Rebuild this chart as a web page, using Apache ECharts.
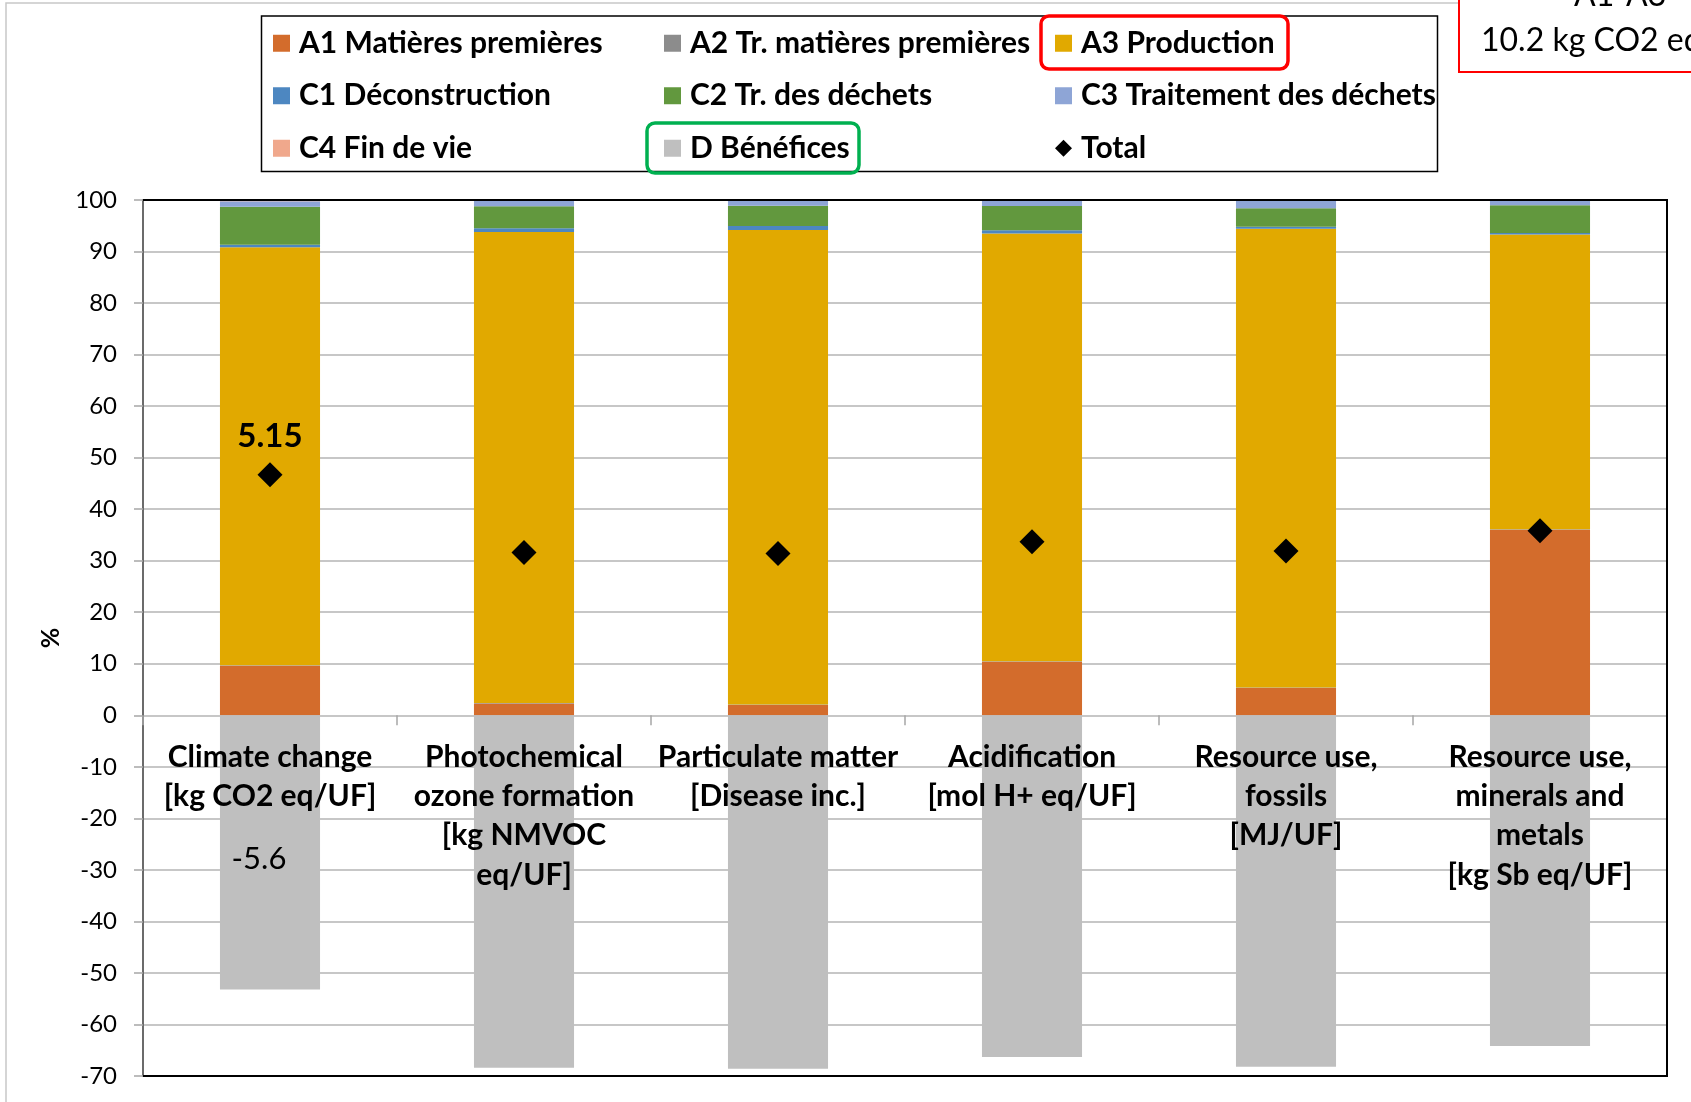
<!DOCTYPE html>
<html>
<head>
<meta charset="utf-8">
<script src="https://cdn.jsdelivr.net/npm/echarts@6/dist/echarts.min.js"></script>
<style>
  html, body { margin: 0; padding: 0; background: #ffffff; }
  #chart { width: 1691px; height: 1102px; }
</style>
</head>
<body>
<div id="chart"></div>
<script>
// Impact categories (x axis)
const categories = [
  'Climate change\n[kg CO2 eq/UF]',
  'Photochemical\nozone formation\n[kg NMVOC\neq/UF]',
  'Particulate matter\n[Disease inc.]',
  'Acidification\n[mol H+ eq/UF]',
  'Resource use,\nfossils\n[MJ/UF]',
  'Resource use,\nminerals and\nmetals\n[kg Sb eq/UF]'
];

// Contribution of each life-cycle module, in % of the burdens
const a1 = [9.6, 2.3, 2.0, 10.4, 5.3, 36.0];
const a2 = [0.1, 0.1, 0.1, 0.1, 0.1, 0.1];
const a3 = [81.15, 91.4, 92.1, 83.0, 89.0, 57.2];
const c1 = [0.45, 0.7, 0.75, 0.65, 0.4, 0.3];
const c2 = [7.4, 4.3, 3.95, 4.7, 3.6, 5.4];
const c3 = [1.05, 1.0, 0.9, 0.95, 1.4, 0.8];
const c4 = [0.25, 0.2, 0.2, 0.2, 0.2, 0.2];
const d = [-53.2, -68.4, -68.6, -66.3, -68.2, -64.2];
const total = [46.7, 31.6, 31.4, 33.7, 31.9, 35.8];

// Category names are hung from the zero line
const labelAnchor = [0, 0, 0, 0, 0, 0];

// Absolute climate-change results written on the chart
const totalLabels = ['5.15', '', '', '', '', ''];
const benefitLabels = ['-5.6', '', '', '', '', ''];

// Y axis range and step
const yMin = -70;
const yMax = 100;
const yStep = 10;

const FONT = 'Lato, "Open Sans", "Noto Sans", sans-serif';
const G = { left: 143, top: 200, width: 1524, height: 876 };

const colors = {
  a1: '#D36C2C', a2: '#8C8C8C', a3: '#E1A900', c1: '#4D87C1',
  c2: '#62983E', c3: '#8EA5D6', c4: '#F0A88C', d: '#BFBFBF'
};

function barSeries(name, values, color) {
  return {
    name: name,
    type: 'bar',
    stack: 'modules',
    barWidth: '39.4%',
    itemStyle: { color: color },
    emphasis: { disabled: true },
    data: values
  };
}

const chart = echarts.init(document.getElementById('chart'), null, { renderer: 'canvas' });

const series = [
  barSeries('A1 Matières premières', a1, colors.a1),
  barSeries('A2 Tr. matières premières', a2, colors.a2),
  barSeries('A3 Production', a3, colors.a3),
  barSeries('C1 Déconstruction', c1, colors.c1),
  barSeries('C2 Tr. des déchets', c2, colors.c2),
  barSeries('C3 Traitement des déchets', c3, colors.c3),
  barSeries('C4 Fin de vie', c4, colors.c4),
  Object.assign(barSeries('D Bénéfices', d, colors.d), {
    label: {
      show: true,
      position: [39, 144],
      align: 'center',
      verticalAlign: 'middle',
      fontFamily: FONT,
      fontSize: 31,
      color: '#000',
      formatter: p => benefitLabels[p.dataIndex]
    }
  }),
  {
    name: 'Total',
    type: 'scatter',
    symbol: 'diamond',
    symbolSize: 25,
    z: 10,
    itemStyle: { color: '#000', opacity: 1 },
    emphasis: { disabled: true },
    label: {
      show: true,
      position: 'top',
      distance: 9,
      fontFamily: FONT,
      fontSize: 33,
      fontWeight: 'bold',
      color: '#000',
      formatter: p => totalLabels[p.dataIndex]
    },
    data: total
  },
  {
    name: 'categoryNames',
    type: 'scatter',
    silent: true,
    symbol: 'circle',
    symbolSize: 0,
    z: 20,
    itemStyle: { color: 'rgba(0,0,0,0)', opacity: 1 },
    emphasis: { disabled: true },
    label: {
      show: true,
      opacity: 1,
      position: 'bottom',
      distance: 22,
      fontFamily: FONT,
      fontSize: 30,
      fontWeight: 'bold',
      lineHeight: 39.3,
      color: '#000',
      align: 'center',
      verticalAlign: 'top',
      formatter: p => categories[p.dataIndex]
    },
    data: labelAnchor
  }
];

const right = G.left + G.width;
const bottom = G.top + G.height;

chart.setOption({
  animation: false,
  backgroundColor: '#ffffff',
  textStyle: { fontFamily: FONT },
  tooltip: { show: false },
  grid: {
    left: G.left, top: G.top, width: G.width, height: G.height,
    containLabel: false, outerBoundsMode: 'none'
  },
  legend: {
    left: 273,
    top: 17,
    padding: 0,
    width: 1180,
    itemGap: 0,
    itemWidth: 17,
    itemHeight: 17,
    selectedMode: false,
    data: [
      { name: 'A1 Matières premières', icon: 'rect' },
      { name: 'A2 Tr. matières premières', icon: 'rect' },
      { name: 'A3 Production', icon: 'rect' },
      { name: 'C1 Déconstruction', icon: 'rect' },
      { name: 'C2 Tr. des déchets', icon: 'rect' },
      { name: 'C3 Traitement des déchets', icon: 'rect' },
      { name: 'C4 Fin de vie', icon: 'rect' },
      { name: 'D Bénéfices', icon: 'rect' },
      { name: 'Total', icon: 'diamond' }
    ],
    textStyle: {
      fontFamily: FONT,
      fontSize: 30,
      fontWeight: 'bold',
      color: '#000',
      width: 365,
      lineHeight: 52.5,
      padding: [0, 0, 0, 4]
    }
  },
  xAxis: {
    type: 'category',
    data: categories,
    axisLine: { show: true, onZero: true, lineStyle: { color: '#b4b4b4', width: 1.5, opacity: 0 } },
    axisTick: { show: true, length: 10, lineStyle: { color: '#a6a6a6', width: 1.5 } },
    axisLabel: { show: false },
    splitLine: { show: false }
  },
  yAxis: {
    type: 'value',
    min: yMin,
    max: yMax,
    interval: yStep,
    name: '%',
    nameLocation: 'middle',
    nameGap: 80,
    nameRotate: 90,
    nameTextStyle: { fontFamily: FONT, fontSize: 25, fontWeight: 'bold', color: '#000' },
    axisLine: { show: true, lineStyle: { color: '#6b6b6b', width: 2 } },
    axisTick: { show: true, length: 9, lineStyle: { color: '#a6a6a6', width: 1.5 } },
    axisLabel: { margin: 26, fontFamily: FONT, fontSize: 24, color: '#000' },
    splitLine: { show: true, lineStyle: { color: '#b4b4b4', width: 1.5 } }
  },
  series: series,
  graphic: [
    // chart area frame
    {
      type: 'polyline', z: 1,
      shape: { points: [[6, 1102], [6, 3], [1459, 3]] },
      style: { stroke: '#c8c8c8', lineWidth: 1.5, fill: null }
    },
    // plot frame: top, right and bottom edges
    {
      type: 'polyline', z: 50,
      shape: { points: [[G.left, G.top], [right, G.top], [right, bottom], [G.left, bottom]] },
      style: { stroke: '#000', lineWidth: 2, fill: null }
    },
    // legend frame
    {
      type: 'rect', z: 1,
      shape: { x: 261.5, y: 16, width: 1176, height: 155.5 },
      style: { stroke: '#000', lineWidth: 1.5, fill: null }
    },
    // highlight around A3
    {
      type: 'rect', z: 60,
      shape: { x: 1041, y: 16, width: 247, height: 53, r: 8 },
      style: { stroke: '#FF0000', lineWidth: 3.5, fill: null }
    },
    // highlight around D
    {
      type: 'rect', z: 60,
      shape: { x: 647, y: 123, width: 212, height: 50, r: 8 },
      style: { stroke: '#00B050', lineWidth: 3.5, fill: null }
    },
    // A1-A3 callout box
    {
      type: 'rect', z: 60,
      shape: { x: 1459, y: -10, width: 260, height: 82 },
      style: { stroke: '#FF0000', lineWidth: 2, fill: '#ffffff' }
    },
    {
      type: 'text', z: 61, x: 1574, y: -4,
      style: { text: 'A1-A3', fontFamily: FONT, fontSize: 32, fill: '#000', verticalAlign: 'middle' }
    },
    {
      type: 'text', z: 61, x: 1481, y: 41,
      style: { text: '10.2 kg CO2 eq', fontFamily: FONT, fontSize: 32, fill: '#000', verticalAlign: 'middle' }
    }
  ]
});
</script>
</body>
</html>
